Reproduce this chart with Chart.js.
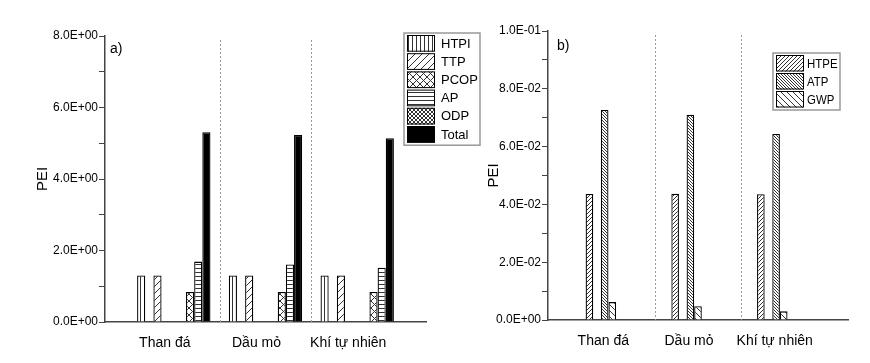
<!DOCTYPE html>
<html>
<head>
<meta charset="utf-8">
<script src="https://cdn.jsdelivr.net/npm/chart.js@4/dist/chart.umd.min.js"></script>
<style>
  body { margin: 0; background: #fff; }
  .wrap { position: absolute; top: 0; height: 363px; }
</style>
</head>
<body>
<div class="wrap" style="left:0;width:485px"><canvas id="chartA" width="485" height="363"></canvas></div>
<div class="wrap" style="left:485px;width:385px"><canvas id="chartB" width="385" height="363"></canvas></div>
<script>
// fuel types on the x axis
const categories = ['Than đá', 'Dầu mỏ', 'Khí tự nhiên'];

// panel a) values
const htpi  = [1.30, 1.30, 1.30];
const ttp   = [1.30, 1.30, 1.30];
const pcop  = [0.84, 0.84, 0.84];
const ap    = [1.69, 1.61, 1.52];
const odp   = [0, 0, 0];
const total = [5.31, 5.23, 5.14];

// panel b) values
const htpe = [0.0436, 0.0437, 0.0435];
const atp  = [0.0727, 0.0710, 0.0644];
const gwp  = [0.0062, 0.0048, 0.0030];

// y axis ranges / tick steps
const yA = { min: 0, max: 8, step: 1 };
const yB = { min: 0, max: 0.1, step: 0.01 };

// bar slot order inside each group (shared by both panels)
const slotOrder = ['HTPI', 'HTPE', 'TTP', 'ATP', 'GWP', 'ODP', 'PCOP', 'AP', 'Total'];

Chart.defaults.font.family = "'Liberation Sans', Arial, sans-serif";
Chart.defaults.color = '#000';

function makePattern(kind, s) {
  if (kind === 'solid') return '#000';
  const c = document.createElement('canvas');
  c.width = s; c.height = s;
  const g = c.getContext('2d');
  g.fillStyle = '#fff';
  g.fillRect(0, 0, s, s);
  g.strokeStyle = '#333';
  g.lineWidth = 1;
  g.beginPath();
  if (kind === 'vert') { g.moveTo(0.5, 0); g.lineTo(0.5, s); }
  if (kind === 'horiz') { g.moveTo(0, 0.5); g.lineTo(s, 0.5); }
  if (kind === 'fwd' || kind === 'cross') {
    g.moveTo(0, s); g.lineTo(s, 0);
    g.moveTo(-1, 1); g.lineTo(1, -1);
    g.moveTo(s - 1, s + 1); g.lineTo(s + 1, s - 1);
  }
  if (kind === 'back' || kind === 'cross') {
    g.moveTo(0, 0); g.lineTo(s, s);
    g.moveTo(-1, s - 1); g.lineTo(1, s + 1);
    g.moveTo(s - 1, -1); g.lineTo(s + 1, 1);
  }
  g.stroke();
  return g.createPattern(c, 'repeat');
}

const fills = {
  HTPI: makePattern('vert', 4),
  HTPE: makePattern('fwd', 4),
  TTP: makePattern('fwd', 7),
  ATP: makePattern('back', 3),
  GWP: makePattern('back', 6),
  ODP: makePattern('cross', 4),
  PCOP: makePattern('cross', 7),
  AP: makePattern('horiz', 4),
  Total: makePattern('solid')
};

function sci(v) {
  if (Math.abs(v) < 1e-12) return '0.0E+00';
  const e = Math.floor(Math.log10(v) + 1e-9);
  const m = v / Math.pow(10, e);
  return m.toFixed(1) + 'E' + (e < 0 ? '-' : '+') + String(Math.abs(e)).padStart(2, '0');
}

function buildDatasets(values) {
  return slotOrder.map(name => ({
    label: name,
    data: categories.map((c, i) => ({ x: i + 1, y: values[name] ? values[name][i] : null })),
    backgroundColor: fills[name],
    borderColor: '#000',
    borderWidth: 1.3
  }));
}

// dashed separators between fuel groups + panel letter
const deco = {
  id: 'deco',
  beforeDatasetsDraw(chart, args, opts) {
    const { ctx, chartArea } = chart;
    const x = chart.scales.x;
    ctx.save();
    ctx.strokeStyle = '#999';
    ctx.lineWidth = 1;
    ctx.setLineDash([2, 2]);
    for (let i = 1; i < categories.length; i++) {
      const px = Math.round(x.getPixelForValue(i + 0.5)) + 0.5;
      ctx.beginPath();
      ctx.moveTo(px, chartArea.top + 4);
      ctx.lineTo(px, chartArea.bottom);
      ctx.stroke();
    }
    ctx.setLineDash([]);
    ctx.font = "14px 'Liberation Sans', Arial, sans-serif";
    ctx.fillStyle = '#000';
    ctx.textBaseline = 'middle';
    ctx.fillText(opts.letter, chartArea.left + opts.dx, chartArea.top + opts.dy);
    ctx.restore();
  }
};

// boxed legend like the original figure
const peiLegend = {
  id: 'peiLegend',
  afterDraw(chart, args, o) {
    const { ctx } = chart;
    ctx.save();
    ctx.strokeStyle = '#999';
    ctx.lineWidth = 1.5;
    ctx.strokeRect(o.x, o.y, o.w, o.rowH * o.items.length + 3);
    ctx.font = "13px 'Liberation Sans', Arial, sans-serif";
    ctx.textBaseline = 'middle';
    o.items.forEach((name, i) => {
      const ds = chart.data.datasets.find(d => d.label === name);
      const by = o.y + 2 + i * o.rowH;
      ctx.fillStyle = ds.backgroundColor;
      ctx.fillRect(o.x + 3, by, 28, o.rowH - 1.5);
      ctx.strokeStyle = '#000';
      ctx.lineWidth = 1;
      ctx.strokeRect(o.x + 3.5, by + 0.5, 27, o.rowH - 2.5);
      ctx.save();
      ctx.translate(o.x + o.textDx, by + o.rowH / 2);
      ctx.scale(o.textScale, 1);
      ctx.fillStyle = '#000';
      ctx.fillText(name, 0, 0);
      ctx.restore();
    });
    ctx.restore();
  }
};

function makeChart(id, values, yr, cfg) {
  return new Chart(document.getElementById(id), {
    type: 'bar',
    data: { datasets: buildDatasets(values) },
    options: {
      responsive: false,
      animation: false,
      layout: { padding: cfg.padding },
      datasets: { bar: { categoryPercentage: 0.8, barPercentage: 1 } },
      scales: {
        x: {
          type: 'linear',
          min: 0.25,
          max: 3.75,
          offset: false,
          afterBuildTicks: s => { s.ticks = categories.map((c, i) => ({ value: i + 1 })); },
          afterFit: s => { s.height = cfg.xHeight; },
          grid: { display: false, offset: false },
          border: { color: '#444', width: 1.5 },
          ticks: {
            autoSkip: false,
            maxRotation: 0,
            padding: 5,
            labelOffset: -9,
            font: { size: 14 },
            callback: v => categories[Math.round(v) - 1]
          }
        },
        y: {
          min: yr.min,
          max: yr.max,
          afterFit: s => { s.width = cfg.yWidth; },
          grid: { drawOnChartArea: false, drawTicks: true, tickLength: 6, tickColor: '#444' },
          border: { color: '#444', width: 1.5 },
          title: { display: true, text: 'PEI', font: { size: 15 }, padding: { top: cfg.titlePad, bottom: 0 } },
          ticks: {
            stepSize: yr.step,
            autoSkip: false,
            padding: 1,
            font: { size: 12 },
            callback: v => (Math.round(v / yr.step) % 2 === 0 ? sci(v) : '')
          }
        }
      },
      plugins: {
        legend: { display: false },
        tooltip: { enabled: false },
        deco: cfg.deco,
        peiLegend: cfg.legend
      }
    },
    plugins: [deco, peiLegend]
  });
}

makeChart('chartA', { HTPI: htpi, TTP: ttp, PCOP: pcop, AP: ap, ODP: odp, Total: total }, yA, {
  padding: { top: 36, right: 59, left: 0, bottom: 0 },
  xHeight: 41,
  yWidth: 105,
  titlePad: 34,
  deco: { letter: 'a)', dx: 5, dy: 13 },
  legend: { x: 404, y: 33, w: 76, rowH: 18.2, textDx: 37, textScale: 1, items: ['HTPI', 'TTP', 'PCOP', 'AP', 'ODP', 'Total'] }
});

makeChart('chartB', { HTPE: htpe, ATP: atp, GWP: gwp }, yB, {
  padding: { top: 31, right: 22, left: 0, bottom: 0 },
  xHeight: 43,
  yWidth: 63,
  titlePad: 0,
  deco: { letter: 'b)', dx: 9, dy: 15 },
  legend: { x: 288, y: 53, w: 67, rowH: 18, textDx: 34, textScale: 0.88, items: ['HTPE', 'ATP', 'GWP'] }
});
</script>
</body>
</html>
